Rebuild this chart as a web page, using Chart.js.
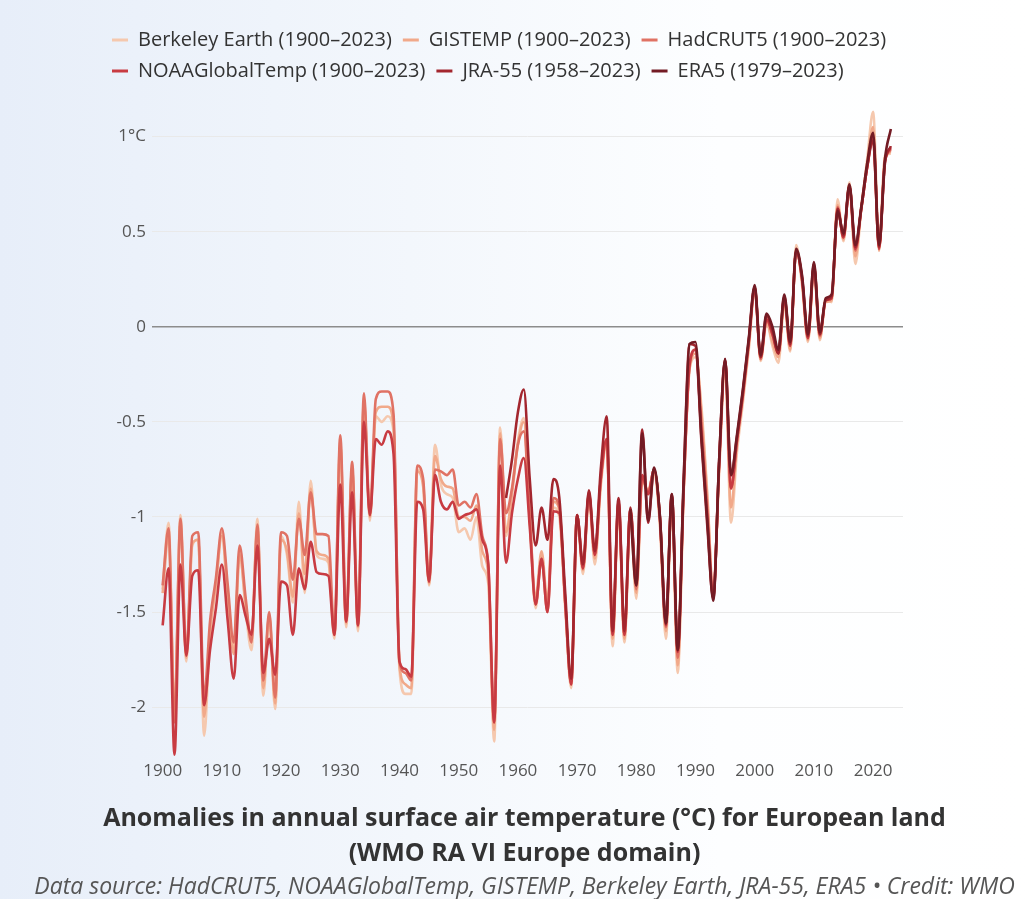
<!DOCTYPE html>
<html>
<head>
<meta charset="utf-8">
<script src="https://cdn.jsdelivr.net/npm/chart.js@4.4.1/dist/chart.umd.min.js"></script>
<style>
  html, body { margin: 0; padding: 0; }
  body {
    width: 1029px; height: 899px; overflow: hidden;
    background: linear-gradient(90deg, #e7eef9 0%, #f3f7fc 40%, #fdfeff 70%, #ffffff 100%);
  }
  #wrap { position: relative; width: 1029px; height: 899px; }
</style>
</head>
<body>
<div id="wrap"><canvas id="chart" width="1029" height="899"></canvas></div>
<script>
// Annual land surface air temperature anomalies for Europe (°C)
const berkeleyStart = 1900;
const berkeley = [
  -1.38,-1.03,-2.02,-0.99,-1.76,-1.15,-1.12,-2.15,-1.62,-1.36,
  -1.08,-1.45,-1.70,-1.18,-1.48,-1.70,-1.01,-1.94,-1.52,-2.01,
  -1.10,-1.20,-1.45,-0.92,-1.40,-0.81,-1.20,-1.22,-1.24,-1.64,
  -0.60,-1.58,-0.74,-1.60,-0.38,-1.02,-0.47,-0.50,-0.47,-0.55,
  -1.80,-1.93,-1.93,-0.75,-0.82,-1.36,-0.62,-0.83,-0.88,-0.90,
  -1.08,-1.06,-1.12,-1.00,-1.26,-1.35,-2.18,-0.53,-1.10,-0.86,
  -0.60,-0.48,-1.02,-1.48,-1.20,-1.48,-0.95,-1.00,-1.48,-1.90,
  -1.00,-1.30,-0.90,-1.25,-0.84,-0.62,-1.68,-0.95,-1.66,-0.98,
  -1.43,-0.82,-0.86,-0.78,-1.05,-1.64,-0.92,-1.82,-0.88,-0.22,
  -0.16,-0.42,-0.88,-1.40,-0.76,-0.22,-1.03,-0.66,-0.40,-0.12,
   0.19,-0.18, 0.02,-0.10,-0.19, 0.12,-0.13, 0.43, 0.22,-0.08,
   0.30,-0.07, 0.15, 0.13, 0.67, 0.45, 0.76, 0.33, 0.62, 0.88,
   1.13, 0.42, 0.90, 0.91
];

const gistempStart = 1900;
const gistemp = [
  -1.40,-1.10,-2.05,-1.03,-1.74,-1.14,-1.12,-2.05,-1.60,-1.35,
  -1.10,-1.40,-1.72,-1.20,-1.45,-1.64,-1.06,-1.90,-1.52,-1.98,
  -1.12,-1.18,-1.42,-0.98,-1.30,-0.85,-1.18,-1.20,-1.22,-1.62,
  -0.62,-1.56,-0.75,-1.58,-0.40,-1.00,-0.45,-0.42,-0.42,-0.52,
  -1.78,-1.88,-1.90,-0.76,-0.84,-1.35,-0.68,-0.80,-0.84,-0.85,
  -1.00,-1.00,-1.02,-0.94,-1.18,-1.30,-2.12,-0.56,-1.08,-0.88,
  -0.62,-0.50,-1.00,-1.42,-1.18,-1.45,-0.92,-0.96,-1.46,-1.86,
  -0.99,-1.28,-0.88,-1.22,-0.82,-0.60,-1.64,-0.93,-1.64,-0.97,
  -1.40,-0.80,-0.86,-0.76,-1.03,-1.60,-0.90,-1.78,-0.86,-0.22,
  -0.14,-0.45,-0.90,-1.40,-0.74,-0.20,-0.95,-0.62,-0.37,-0.10,
   0.20,-0.17, 0.03,-0.08,-0.16, 0.14,-0.12, 0.41, 0.24,-0.07,
   0.31,-0.06, 0.13, 0.14, 0.64, 0.46, 0.75, 0.37, 0.63, 0.86,
   1.05, 0.40, 0.89, 0.92
];

const hadcrut5Start = 1900;
const hadcrut5 = [
  -1.36,-1.06,-2.08,-1.01,-1.72,-1.10,-1.08,-1.95,-1.55,-1.32,
  -1.06,-1.36,-1.66,-1.15,-1.42,-1.66,-1.04,-1.86,-1.50,-1.95,
  -1.08,-1.10,-1.33,-1.01,-1.20,-0.87,-1.09,-1.09,-1.10,-1.62,
  -0.57,-1.55,-0.71,-1.57,-0.35,-0.99,-0.38,-0.34,-0.34,-0.46,
  -1.76,-1.82,-1.86,-0.73,-0.80,-1.34,-0.75,-0.76,-0.78,-0.75,
  -0.94,-0.92,-0.95,-0.88,-1.10,-1.25,-2.08,-0.59,-0.98,-0.85,
  -0.62,-0.55,-1.00,-1.46,-1.22,-1.50,-0.90,-0.95,-1.45,-1.88,
  -0.99,-1.27,-0.88,-1.20,-0.80,-0.59,-1.62,-0.92,-1.62,-0.96,
  -1.38,-0.78,-0.88,-0.75,-1.01,-1.58,-0.89,-1.74,-0.85,-0.20,
  -0.12,-0.50,-0.95,-1.41,-0.72,-0.18,-0.85,-0.60,-0.35,-0.08,
   0.21,-0.17, 0.04,-0.04,-0.14, 0.15,-0.10, 0.40, 0.25,-0.06,
   0.32,-0.05, 0.14, 0.15, 0.63, 0.47, 0.74, 0.40, 0.62, 0.84,
   1.00, 0.41, 0.87, 0.93
];

const noaaStart = 1900;
const noaa = [
  -1.57,-1.27,-2.25,-1.25,-1.73,-1.31,-1.28,-1.99,-1.70,-1.48,
  -1.25,-1.55,-1.85,-1.41,-1.52,-1.62,-1.15,-1.82,-1.64,-1.83,
  -1.34,-1.36,-1.62,-1.27,-1.38,-1.13,-1.29,-1.30,-1.31,-1.62,
  -0.83,-1.55,-0.87,-1.57,-0.50,-0.99,-0.59,-0.62,-0.55,-0.67,
  -1.76,-1.80,-1.84,-0.92,-0.96,-1.34,-0.78,-0.92,-0.96,-0.92,
  -1.01,-0.99,-0.98,-0.96,-1.12,-1.25,-2.08,-0.73,-1.24,-0.98,
  -0.80,-0.69,-1.05,-1.46,-1.22,-1.50,-0.97,-0.98,-1.45,-1.88,
  -0.99,-1.27,-0.87,-1.20,-0.80,-0.59,-1.62,-0.92,-1.62,-0.96,
  -1.36,-0.78,-0.88,-0.75,-1.01,-1.57,-0.89,-1.71,-0.85,-0.20,
  -0.12,-0.55,-1.00,-1.42,-0.72,-0.18,-0.85,-0.60,-0.36,-0.08,
   0.20,-0.16, 0.04,-0.04,-0.14, 0.15,-0.10, 0.40, 0.25,-0.06,
   0.32,-0.04, 0.14, 0.15, 0.62, 0.47, 0.74, 0.41, 0.62, 0.84,
   1.00, 0.41, 0.87, 0.94
];

const jra55Start = 1958;
const jra55 = [
                                                -0.90,-0.70,
  -0.45,-0.33,-0.80,-1.15,-0.95,-1.12,-0.80,-0.90,-1.40,-1.85,
  -0.99,-1.25,-0.86,-1.18,-0.75,-0.47,-1.60,-0.90,-1.60,-0.95,
  -1.35,-0.54,-1.03,-0.75,-1.00,-1.56,-0.88,-1.70,-0.80,-0.09,
  -0.10,-0.60,-1.05,-1.43,-0.70,-0.17,-0.78,-0.58,-0.34,-0.07,
   0.21,-0.16, 0.06,-0.02,-0.14, 0.16,-0.09, 0.40, 0.26,-0.05,
   0.33,-0.04, 0.14, 0.16, 0.62, 0.48, 0.74, 0.42, 0.62, 0.84,
   0.98, 0.42, 0.86, 0.95
];

const era5Start = 1979;
const era5 = [
                                                      -0.96,
  -1.36,-0.56,-1.02,-0.74,-1.00,-1.56,-0.88,-1.70,-0.82,-0.09,
  -0.08,-0.58,-1.02,-1.44,-0.70,-0.17,-0.78,-0.57,-0.33,-0.06,
   0.22,-0.15, 0.07, 0.00,-0.12, 0.17,-0.08, 0.41, 0.27,-0.04,
   0.34,-0.03, 0.15, 0.17, 0.61, 0.49, 0.75, 0.43, 0.63, 0.86,
   1.02, 0.43, 0.88, 1.04
];

const xTicks = [1900, 1910, 1920, 1930, 1940, 1950, 1960, 1970, 1980, 1990, 2000, 2010, 2020];
const yTicks = [-2, -1.5, -1, -0.5, 0, 0.5, 1];

const seriesLabels = [
  'Berkeley Earth (1900–2023)', 'GISTEMP (1900–2023)', 'HadCRUT5 (1900–2023)',
  'NOAAGlobalTemp (1900–2023)', 'JRA-55 (1958–2023)', 'ERA5 (1979–2023)'
];
const seriesColors = ['#f5c8ae', '#f1a98a', '#e07264', '#c83b42', '#a3262e', '#731b24'];

function toPoints(start, values) {
  return values.map((v, i) => ({ x: start + i, y: v }));
}

const series = [
  toPoints(berkeleyStart, berkeley),
  toPoints(gistempStart, gistemp),
  toPoints(hadcrut5Start, hadcrut5),
  toPoints(noaaStart, noaa),
  toPoints(jra55Start, jra55),
  toPoints(era5Start, era5)
];

// darkest series drawn last (on top); legend lists them light to dark
const datasets = series.map((pts, i) => ({
  label: seriesLabels[i],
  data: pts,
  borderColor: seriesColors[i],
  backgroundColor: seriesColors[i],
  borderWidth: 2.6,
  pointRadius: 0,
  pointHoverRadius: 0,
  cubicInterpolationMode: 'monotone',
  fill: false
})).reverse();

const FONT = "'Open Sans', 'Noto Sans', sans-serif";

// nudges the legend rows to start above the plot's left edge
const legendInset = {
  id: 'legendInset',
  afterLayout(chart) {
    if (chart.legend) { chart.legend.left += 71; }
  }
};

new Chart(document.getElementById('chart'), {
  type: 'line',
  data: { datasets },
  plugins: [legendInset],
  options: {
    responsive: false,
    animation: false,
    events: [],
    layout: { padding: { left: 30, right: 10, top: 19, bottom: 0 } },
    scales: {
      x: {
        type: 'linear',
        min: 1898.2,
        max: 2025.05,
        grid: { display: false, drawTicks: false },
        border: { display: false },
        afterBuildTicks: s => { s.ticks = xTicks.map(v => ({ value: v })); },
        ticks: {
          padding: 4.5,
          maxRotation: 0,
          autoSkip: false,
          color: '#555',
          font: { family: FONT, size: 17 },
          callback: v => String(v)
        }
      },
      y: {
        type: 'linear',
        position: 'left',
        min: -2.26,
        max: 1.24,
        afterBuildTicks: s => { s.ticks = yTicks.map(v => ({ value: v })); },
        afterFit: s => { s.width = 122; },
        grid: {
          drawTicks: false,
          color: ctx => (ctx.tick && ctx.tick.value === 0) ? '#8c8c8c' : '#e9e9e9',
          lineWidth: ctx => (ctx.tick && ctx.tick.value === 0) ? 1.4 : 1
        },
        border: { display: false },
        ticks: {
          padding: 6,
          color: '#555',
          font: { family: FONT, size: 17 },
          callback: v => v === 1 ? '1°C' : String(v)
        }
      },
      yRight: {
        type: 'linear',
        position: 'right',
        display: true,
        grid: { display: false, drawTicks: false },
        border: { display: false },
        ticks: { display: false },
        afterFit: s => { s.width = 116; }
      }
    },
    plugins: {
      legend: {
        position: 'top',
        align: 'start',
        reverse: true,
        labels: {
          boxWidth: 16,
          boxHeight: 3,
          padding: 11,
          color: '#333',
          font: { family: FONT, size: 20 },
          generateLabels: chart => Chart.defaults.plugins.legend.labels.generateLabels(chart)
            .map(l => Object.assign(l, { lineWidth: 0 }))
        }
      },
      tooltip: { enabled: false },
      title: {
        display: true,
        position: 'bottom',
        weight: 1400,
        text: ['Anomalies in annual surface air temperature (°C) for European land', '(WMO RA VI Europe domain)'],
        color: '#333',
        font: { family: FONT, size: 25, weight: 'bold', lineHeight: 1.4 },
        padding: { top: 15, bottom: 5 }
      },
      subtitle: {
        display: true,
        position: 'bottom',
        weight: 1600,
        text: 'Data source: HadCRUT5, NOAAGlobalTemp, GISTEMP, Berkeley Earth, JRA-55, ERA5 • Credit: WMO',
        color: '#555',
        font: { family: FONT, size: 23, style: 'italic', lineHeight: 1.0 },
        padding: { top: 0, bottom: 0 }
      }
    }
  }
});
</script>
</body>
</html>
